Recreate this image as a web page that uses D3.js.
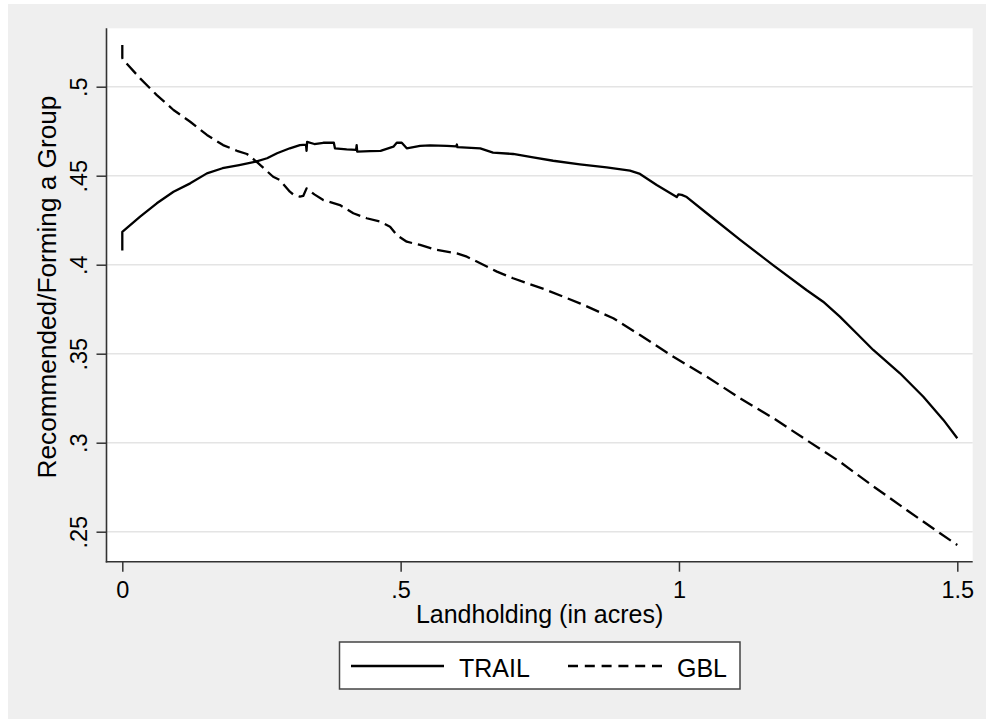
<!DOCTYPE html>
<html>
<head>
<meta charset="utf-8">
<script src="https://cdn.jsdelivr.net/npm/d3@7"></script>
<style>
  html, body { margin: 0; padding: 0; background: #ffffff; }
  svg { display: block; }
  text { font-family: "Liberation Sans", Arial, Helvetica, sans-serif; fill: #000; }
</style>
</head>
<body>
<svg id="chart" width="986" height="719"></svg>
<script>
// ---- Data ----
const xTicks = [0, 0.5, 1, 1.5];
const xTickLabels = ["0", ".5", "1", "1.5"];
const yTicks = [0.25, 0.3, 0.35, 0.4, 0.45, 0.5];
const yTickLabels = [".25", ".3", ".35", ".4", ".45", ".5"];

const seriesNames = ["TRAIL", "GBL"];

const trailX = [0, 0, 0.032, 0.062, 0.092, 0.122, 0.152, 0.18, 0.21, 0.24, 0.26, 0.278, 0.301, 0.319, 0.330, 0.331, 0.332, 0.345, 0.361, 0.380, 0.382, 0.403, 0.420, 0.421, 0.422, 0.445, 0.464, 0.487, 0.493, 0.502, 0.511, 0.535, 0.553, 0.583, 0.600, 0.601, 0.602, 0.643, 0.666, 0.702, 0.738, 0.774, 0.822, 0.870, 0.912, 0.930, 0.960, 0.996, 0.999, 1.005, 1.014, 1.050, 1.110, 1.169, 1.229, 1.259, 1.289, 1.319, 1.349, 1.397, 1.439, 1.475, 1.500];
const trailY = [0.408, 0.4185, 0.427, 0.4345, 0.441, 0.4457, 0.4513, 0.4542, 0.456, 0.4579, 0.4598, 0.4626, 0.4654, 0.4672, 0.4675, 0.4640, 0.4690, 0.4678, 0.4685, 0.4685, 0.4654, 0.4648, 0.4645, 0.4672, 0.4635, 0.4638, 0.4640, 0.4663, 0.4685, 0.4685, 0.4654, 0.4667, 0.4670, 0.4667, 0.4665, 0.4675, 0.4660, 0.4654, 0.4630, 0.4622, 0.4603, 0.4584, 0.4564, 0.4547, 0.4528, 0.4510, 0.4448, 0.4380, 0.4395, 0.4392, 0.4380, 0.4289, 0.4139, 0.3998, 0.3858, 0.3792, 0.3708, 0.3615, 0.3521, 0.3390, 0.3258, 0.3128, 0.3025];

const gblX = [0, 0, 0.002, 0.032, 0.062, 0.092, 0.122, 0.152, 0.181, 0.206, 0.224, 0.241, 0.271, 0.283, 0.301, 0.307, 0.319, 0.325, 0.331, 0.345, 0.361, 0.391, 0.415, 0.439, 0.463, 0.481, 0.493, 0.511, 0.535, 0.565, 0.601, 0.619, 0.643, 0.673, 0.702, 0.762, 0.822, 0.882, 0.930, 0.990, 1.050, 1.110, 1.170, 1.229, 1.289, 1.350, 1.409, 1.469, 1.500];
const gblY = [0.5234, 0.5161, 0.5150, 0.5047, 0.4953, 0.4869, 0.4803, 0.4729, 0.4672, 0.4640, 0.4622, 0.4579, 0.4494, 0.4476, 0.4410, 0.4395, 0.4382, 0.4386, 0.4429, 0.4395, 0.4363, 0.4335, 0.4289, 0.4261, 0.4242, 0.4213, 0.4167, 0.4129, 0.4111, 0.4083, 0.4064, 0.4045, 0.4008, 0.3961, 0.3924, 0.3858, 0.3783, 0.3699, 0.3605, 0.3483, 0.3371, 0.3249, 0.3137, 0.3015, 0.2893, 0.2753, 0.2622, 0.2491, 0.2425];

// ---- Layout ----
const svg = d3.select("#chart");
const plot = { left: 106.5, right: 972.7, top: 28.3, bottom: 561.7 };
const FONT = '"Liberation Sans", Arial, Helvetica, sans-serif';

const x = d3.scaleLinear().domain([0, 1.5]).range([122.3, 957.3]);
const y = d3.scaleLinear().domain([0.25, 0.5]).range([531.7, 86.7]);

// outer (graph region) background
svg.append("rect").attr("x", 8).attr("y", 4).attr("width", 986 - 8).attr("height", 719 - 4)
  .attr("fill", "#efefef");

// plot region
svg.append("rect").attr("x", plot.left).attr("y", plot.top)
  .attr("width", plot.right - plot.left).attr("height", plot.bottom - plot.top)
  .attr("fill", "#ffffff");

// gridlines
svg.append("g").selectAll("line").data(yTicks).join("line")
  .attr("x1", plot.left).attr("x2", plot.right)
  .attr("y1", d => y(d)).attr("y2", d => y(d))
  .attr("stroke", "#e4e4e4").attr("stroke-width", 1.6);

// axes via d3 axis generators
const yAxis = d3.axisLeft(y).tickValues(yTicks).tickFormat((d, i) => yTickLabels[i])
  .tickSize(10).tickSizeOuter(0).tickPadding(9);
const gy = svg.append("g").attr("transform", `translate(${plot.left},0)`).call(yAxis);
gy.select(".domain").remove();
gy.selectAll(".tick line").attr("stroke", "#333").attr("stroke-width", 1.5);
gy.selectAll(".tick text")
  .attr("x", null).attr("dy", null)
  .attr("transform", "translate(-19.5,0) rotate(-90)")
  .attr("text-anchor", "middle")
  .style("font-size", "23.5px")
  .style("font-family", FONT)
  .attr("fill", "#000");

const xAxis = d3.axisBottom(x).tickValues(xTicks).tickFormat((d, i) => xTickLabels[i])
  .tickSize(10).tickSizeOuter(0).tickPadding(8);
const gx = svg.append("g").attr("transform", `translate(0,${plot.bottom})`).call(xAxis);
gx.select(".domain").remove();
gx.selectAll(".tick line").attr("stroke", "#333").attr("stroke-width", 1.5);
gx.selectAll(".tick text")
  .attr("dy", null).attr("y", 36)
  .style("font-size", "23.5px")
  .style("font-family", FONT)
  .attr("fill", "#000");

// axis lines
svg.append("line").attr("x1", plot.left).attr("x2", plot.left)
  .attr("y1", plot.top).attr("y2", plot.bottom + 0.75)
  .attr("stroke", "#333").attr("stroke-width", 1.6);
svg.append("line").attr("x1", plot.left - 0.75).attr("x2", plot.right)
  .attr("y1", plot.bottom).attr("y2", plot.bottom)
  .attr("stroke", "#333").attr("stroke-width", 1.6);

// series lines
const line = d3.line().x(d => x(d[0])).y(d => y(d[1]));
const trail = trailX.map((v, i) => [v, trailY[i]]);
const gbl = gblX.map((v, i) => [v, gblY[i]]);

svg.append("path").datum(gbl).attr("d", line)
  .attr("fill", "none").attr("stroke", "#000").attr("stroke-width", 2.3)
  .attr("stroke-dasharray", "14,6").attr("stroke-linejoin", "round");
svg.append("path").datum(trail).attr("d", line)
  .attr("fill", "none").attr("stroke", "#000").attr("stroke-width", 2.3)
  .attr("stroke-linejoin", "round");

// axis titles
svg.append("text").attr("x", (plot.left + plot.right) / 2).attr("y", 623)
  .attr("text-anchor", "middle").style("font-size", "25px")
  .text("Landholding (in acres)");
svg.append("text").attr("transform", "translate(56,287) rotate(-90)")
  .attr("text-anchor", "middle").style("font-size", "26.2px")
  .text("Recommended/Forming a Group");

// legend
const lg = svg.append("g");
lg.append("rect").attr("x", 339.5).attr("y", 642).attr("width", 400.5).attr("height", 47)
  .attr("fill", "#ffffff").attr("stroke", "#444").attr("stroke-width", 1.5);
lg.append("line").attr("x1", 351).attr("x2", 444).attr("y1", 666).attr("y2", 666)
  .attr("stroke", "#000").attr("stroke-width", 2.3);
lg.append("text").attr("x", 459).attr("y", 677).style("font-size", "25px").text(seriesNames[0]);
lg.append("line").attr("x1", 568).attr("x2", 662).attr("y1", 666).attr("y2", 666)
  .attr("stroke", "#000").attr("stroke-width", 2.3).attr("stroke-dasharray", "10,6.8");
lg.append("text").attr("x", 677).attr("y", 677).style("font-size", "25px").text(seriesNames[1]);
</script>
</body>
</html>
